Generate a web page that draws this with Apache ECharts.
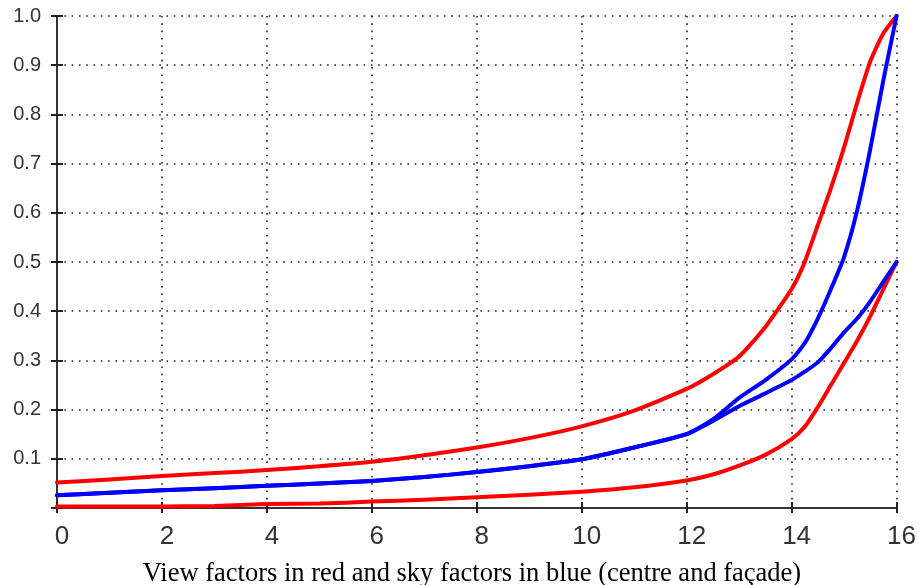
<!DOCTYPE html>
<html>
<head>
<meta charset="utf-8">
<script src="https://cdn.jsdelivr.net/npm/echarts@6/dist/echarts.min.js"></script>
<style>
html,body{margin:0;padding:0;background:#fff;}
#chart{width:919px;height:585px;}
</style>
</head>
<body>
<div id="chart"></div>
<script>
const xs = [0,1,2,3,4,5,6,7,8,9,10,11,12,12.5,13,13.5,14,14.25,14.5,14.75,15,15.25,15.5,15.75,16];
const viewCentre = [0.052,0.058,0.065,0.071,0.077,0.085,0.094,0.107,0.123,0.142,0.166,0.198,0.242,0.272,0.308,0.368,0.445,0.50,0.575,0.65,0.733,0.824,0.908,0.965,1.0];
const viewFacade = [0.003,0.003,0.003,0.004,0.008,0.009,0.013,0.017,0.022,0.027,0.033,0.042,0.056,0.068,0.086,0.108,0.14,0.165,0.205,0.25,0.295,0.34,0.39,0.445,0.5];
const skyCentre = [0.026,0.031,0.036,0.040,0.045,0.050,0.055,0.063,0.073,0.085,0.099,0.123,0.150,0.180,0.224,0.260,0.302,0.335,0.385,0.445,0.51,0.605,0.73,0.87,1.0];
const skyFacade = [0.026,0.031,0.036,0.040,0.045,0.050,0.055,0.063,0.073,0.085,0.099,0.123,0.150,0.177,0.207,0.233,0.26,0.277,0.296,0.325,0.357,0.385,0.42,0.46,0.5];
const xTicks = [0,2,4,6,8,10,12,14,16];
const yTicks = [0.1,0.2,0.3,0.4,0.5,0.6,0.7,0.8,0.9,1.0];
const titleText = 'View factors in red and sky factors in blue (centre and façade)';

const pairs = (ys) => xs.map((x, i) => [x, ys[i]]);
const chart = echarts.init(document.getElementById('chart'), null, {renderer: 'canvas'});
const gridLine = {show: true, lineStyle: {color: '#222', width: 1.6, type: [1.6, 5.7]}};
const lineSeries = (name, ys, color) => ({
  name, type: 'line', data: pairs(ys), showSymbol: false, symbol: 'none',
  smooth: 0.2,
  lineStyle: {color, width: 4, join: 'round', cap: 'round'}, itemStyle: {color}, animation: false
});
chart.setOption({
  animation: false,
  backgroundColor: '#fff',
  title: {
    text: titleText, left: 467, top: 556, textAlign: 'center',
    textStyle: {fontFamily: 'Liberation Serif', fontSize: 26.5, fontWeight: 'normal', color: '#000'}
  },
  grid: {left: 57, right: 22, top: 16, bottom: 77, containLabel: false},
  xAxis: [{
    type: 'value', min: 0, max: 16, interval: 2,
    axisLine: {show: true, onZero: false, lineStyle: {color: '#333', width: 2}},
    axisTick: {show: true, inside: true, length: 6, lineStyle: {color: '#222', width: 2}},
    axisLabel: {
      margin: 16, fontSize: 26, color: '#333', fontFamily: 'Liberation Sans',
      padding: [0, 0, 0, 10],
      formatter: (v) => xTicks.includes(v) ? String(v) : ''
    },
    splitLine: gridLine
  }, {
    type: 'value', position: 'top', min: 0, max: 16, interval: 2,
    axisLine: {show: false},
    axisTick: {show: true, inside: true, length: 5, lineStyle: {color: '#222', width: 2}},
    axisLabel: {show: false}, splitLine: {show: false}
  }],
  yAxis: [{
    type: 'value', min: 0, max: 1, interval: 0.1,
    axisLine: {show: true, onZero: false, lineStyle: {color: '#333', width: 2}},
    axisTick: {show: true, inside: true, length: 6, lineStyle: {color: '#222', width: 2}},
    axisLabel: {
      margin: 16, fontSize: 20, color: '#333', fontFamily: 'Liberation Sans',
      formatter: (v) => {
        const t = yTicks.find(y => Math.abs(y - v) < 1e-6);
        return t === undefined ? '' : t.toFixed(1);
      }
    },
    splitLine: gridLine
  }, {
    type: 'value', position: 'right', min: 0, max: 1, interval: 0.1,
    axisLine: {show: false},
    axisTick: {show: true, inside: true, length: 6, lineStyle: {color: '#222', width: 2}},
    axisLabel: {show: false}, splitLine: {show: false}
  }],
  series: [
    lineSeries('View factor (centre)', viewCentre, '#ff0000'),
    lineSeries('View factor (façade)', viewFacade, '#ff0000'),
    lineSeries('Sky factor (centre)', skyCentre, '#0000ff'),
    lineSeries('Sky factor (façade)', skyFacade, '#0000ff')
  ]
});
</script>
</body>
</html>
